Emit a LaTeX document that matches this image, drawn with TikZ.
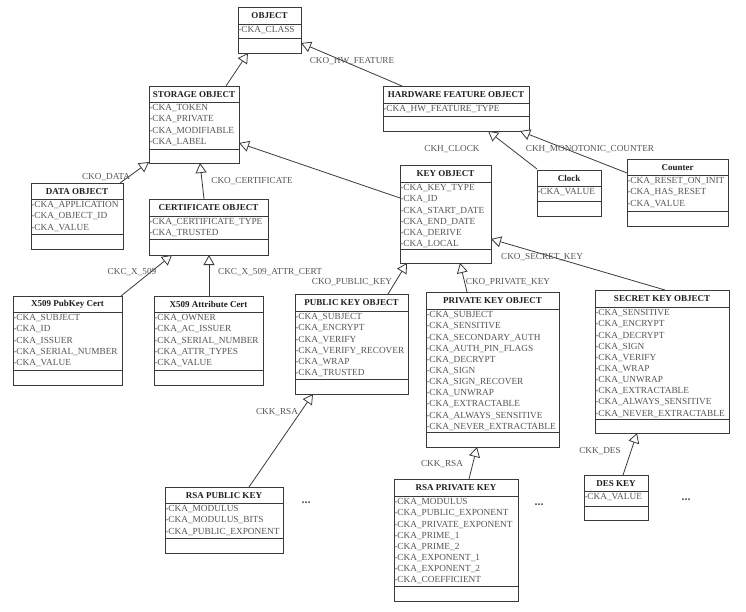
\documentclass[tikz,border=0pt]{standalone}
\usepackage{fontspec}
\setmainfont{Liberation Serif}
\usetikzlibrary{arrows.meta}
\definecolor{attrgray}{HTML}{555555}
\definecolor{titlegray}{HTML}{1E1E1E}
\definecolor{linegray}{HTML}{3A3A3A}
\tikzset{
  classbox/.style={draw=linegray, line width=0.9pt, inner sep=0pt, outer sep=0pt, fill=white},
  sepline/.style={draw=linegray, line width=0.9pt},
  classtitle/.style={font=\bfseries\fontsize{9}{10}\selectfont, text=titlegray, inner sep=0pt},
  attrtext/.style={font=\fontsize{9.3}{11.15}\selectfont, text=attrgray, align=left, inner xsep=0.3pt, inner ysep=2.6pt, outer sep=0pt, anchor=north west},
  lbl/.style={font=\fontsize{9.2}{10}\selectfont, text=attrgray, inner sep=0pt},
  dotslbl/.style={font=\bfseries\fontsize{12}{12}\selectfont, text=attrgray, inner sep=0pt},
  inherit/.style={draw=linegray, line width=0.8pt, -{Triangle[open, length=10pt, width=11pt, fill=white]}},
}
% name, x1, y1, x2, y2, sep1, sep2, title, attributes
\newcommand\umlclass[9]{%
  \node[classbox, anchor=north west, minimum width={#4-#2}, minimum height={#5-#3}] (#1) at (#2,#3) {};
  \draw[sepline] (#2,#6) -- (#4,#6);
  \draw[sepline] (#2,#7) -- (#4,#7);
  \node[classtitle] (#1-title) at ({(#2+#4)/2},{(#3+#6)/2+0.5}) {#8};
  \node[attrtext] (#1-attrs) at (#2,#6) {#9};
}
\begin{document}
\begin{tikzpicture}[x=1pt,y=-1pt]
\useasboundingbox[fill=white] (0,0) rectangle (746,612);

\umlclass{object}{238}{7}{301}{53}{24}{38}{OBJECT}{-CKA\_CLASS}
\umlclass{storage}{149}{86}{239}{163}{102}{149}{STORAGE OBJECT}{-CKA\_TOKEN\\-CKA\_PRIVATE\\-CKA\_MODIFIABLE\\-CKA\_LABEL}
\umlclass{data}{31}{183}{123}{249}{199}{234}{DATA OBJECT}{-CKA\_APPLICATION\\-CKA\_OBJECT\_ID\\-CKA\_VALUE}
\umlclass{cert}{149}{199}{268}{255}{216}{239}{CERTIFICATE OBJECT}{-CKA\_CERTIFICATE\_TYPE\\-CKA\_TRUSTED}
\umlclass{hw}{383}{86}{529}{131}{103}{116}{HARDWARE FEATURE OBJECT}{-CKA\_HW\_FEATURE\_TYPE}
\umlclass{clock}{537}{170}{601}{216}{186}{201}{Clock}{-CKA\_VALUE}
\umlclass{counter}{627}{159}{728}{226}{175}{211}{Counter}{-CKA\_RESET\_ON\_INIT\\-CKA\_HAS\_RESET\\-CKA\_VALUE}
\umlclass{key}{400}{165}{491}{263}{182}{249}{KEY OBJECT}{-CKA\_KEY\_TYPE\\-CKA\_ID\\-CKA\_START\_DATE\\-CKA\_END\_DATE\\-CKA\_DERIVE\\-CKA\_LOCAL}
\umlclass{xpub}{13}{296}{122}{385}{312}{370}{X509 PubKey Cert}{-CKA\_SUBJECT\\-CKA\_ID\\-CKA\_ISSUER\\-CKA\_SERIAL\_NUMBER\\-CKA\_VALUE}
\umlclass{xattr}{154}{296}{263}{385}{312}{370}{X509 Attribute Cert}{-CKA\_OWNER\\-CKA\_AC\_ISSUER\\-CKA\_SERIAL\_NUMBER\\-CKA\_ATTR\_TYPES\\-CKA\_VALUE}
\umlclass{pub}{295}{294}{408}{394}{311}{379}{PUBLIC KEY OBJECT}{-CKA\_SUBJECT\\-CKA\_ENCRYPT\\-CKA\_VERIFY\\-CKA\_VERIFY\_RECOVER\\-CKA\_WRAP\\-CKA\_TRUSTED}
\umlclass{priv}{426}{292}{559}{447}{309}{432}{PRIVATE KEY OBJECT}{-CKA\_SUBJECT\\-CKA\_SENSITIVE\\-CKA\_SECONDARY\_AUTH\\-CKA\_AUTH\_PIN\_FLAGS\\-CKA\_DECRYPT\\-CKA\_SIGN\\-CKA\_SIGN\_RECOVER\\-CKA\_UNWRAP\\-CKA\_EXTRACTABLE\\-CKA\_ALWAYS\_SENSITIVE\\-CKA\_NEVER\_EXTRACTABLE}
\umlclass{secret}{595}{290}{729}{433}{307}{419}{SECRET KEY OBJECT}{-CKA\_SENSITIVE\\-CKA\_ENCRYPT\\-CKA\_DECRYPT\\-CKA\_SIGN\\-CKA\_VERIFY\\-CKA\_WRAP\\-CKA\_UNWRAP\\-CKA\_EXTRACTABLE\\-CKA\_ALWAYS\_SENSITIVE\\-CKA\_NEVER\_EXTRACTABLE}
\umlclass{rsapub}{165}{487}{283}{553}{503}{538}{RSA PUBLIC KEY}{-CKA\_MODULUS\\-CKA\_MODULUS\_BITS\\-CKA\_PUBLIC\_EXPONENT}
\umlclass{rsapriv}{394}{479}{518}{601}{496}{586}{RSA PRIVATE KEY}{-CKA\_MODULUS\\-CKA\_PUBLIC\_EXPONENT\\-CKA\_PRIVATE\_EXPONENT\\-CKA\_PRIME\_1\\-CKA\_PRIME\_2\\-CKA\_EXPONENT\_1\\-CKA\_EXPONENT\_2\\-CKA\_COEFFICIENT}
\umlclass{des}{584}{475}{648}{520}{491}{506}{DES KEY}{-CKA\_VALUE}

% connector end points on the boxes
\coordinate (storage-up) at (226,86);   \coordinate (object-in1) at (248,53);
\coordinate (hw-up) at (402,86);        \coordinate (object-in2) at (301,43);
\coordinate (data-up) at (120,183);     \coordinate (storage-in1) at (149,162);
\coordinate (cert-up) at (204,199);     \coordinate (storage-in2) at (200,163);
\coordinate (key-up) at (400,198);      \coordinate (storage-in3) at (239,143);
\coordinate (xpub-up) at (121,296);     \coordinate (cert-in1) at (172,255);
\coordinate (xattr-up) at (209,296);    \coordinate (cert-in2) at (209,255);
\coordinate (clock-up) at (537,169);    \coordinate (hw-in1) at (488,131);
\coordinate (counter-up) at (627,173);  \coordinate (hw-in2) at (520,131);
\coordinate (pub-up) at (388,294);      \coordinate (key-in1) at (407,263);
\coordinate (priv-up) at (467,292);     \coordinate (key-in2) at (460,263);
\coordinate (secret-up) at (665,290);   \coordinate (key-in3) at (491,239);
\coordinate (rsapub-up) at (249,487);   \coordinate (pub-in) at (313,394);
\coordinate (rsapriv-up) at (469,479);  \coordinate (priv-in) at (477,447);
\coordinate (des-up) at (623,475);      \coordinate (secret-in) at (637,433);

\draw[inherit] (storage-up) -- (object-in1);
\draw[inherit] (hw-up) -- (object-in2);
\draw[inherit] (data-up) -- (storage-in1);
\draw[inherit] (cert-up) -- (storage-in2);
\draw[inherit] (key-up) -- (storage-in3);
\draw[inherit] (xpub-up) -- (cert-in1);
\draw[inherit] (xattr-up) -- (cert-in2);
\draw[inherit] (clock-up) -- (hw-in1);
\draw[inherit] (counter-up) -- (hw-in2);
\draw[inherit] (pub-up) -- (key-in1);
\draw[inherit] (priv-up) -- (key-in2);
\draw[inherit] (secret-up) -- (key-in3);
\draw[inherit] (rsapub-up) -- (pub-in);
\draw[inherit] (rsapriv-up) -- (priv-in);
\draw[inherit] (des-up) -- (secret-in);

% labels
\node[lbl] (l-hw) at (352,61) {CKO\_HW\_FEATURE};
\node[lbl] (l-data) at (106,177) {CKO\_DATA};
\node[lbl] (l-cert) at (252,181) {CKO\_CERTIFICATE};
\node[lbl] (l-clock) at (452,149) {CKH\_CLOCK};
\node[lbl] (l-counter) at (590,149) {CKH\_MONOTONIC\_COUNTER};
\node[lbl] (l-secret) at (542,257) {CKO\_SECRET\_KEY};
\node[lbl] (l-x509) at (132,272) {CKC\_X\_509};
\node[lbl] (l-x509a) at (270,272) {CKC\_X\_509\_ATTR\_CERT};
\node[lbl] (l-pub) at (352,282) {CKO\_PUBLIC\_KEY};
\node[lbl] (l-priv) at (508,282) {CKO\_PRIVATE\_KEY};
\node[lbl] (l-rsapub) at (277,412) {CKK\_RSA};
\node[lbl] (l-rsapriv) at (442,464) {CKK\_RSA};
\node[lbl] (l-des) at (600,451) {CKK\_DES};

\node[dotslbl] (dots1) at (306,503) {...};
\node[dotslbl] (dots2) at (539,505) {...};
\node[dotslbl] (dots3) at (686,500) {...};
\end{tikzpicture}
\end{document}
